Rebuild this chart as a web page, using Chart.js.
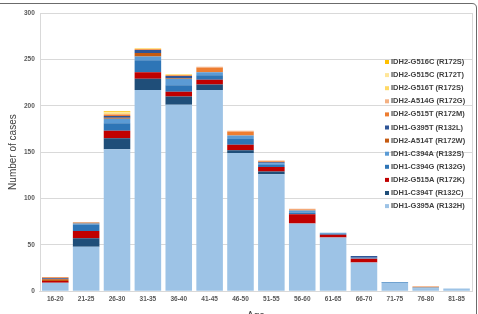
<!DOCTYPE html>
<html>
<head>
<meta charset="utf-8">
<script src="https://cdn.jsdelivr.net/npm/chart.js@4"></script>
<style>
  html, body { margin: 0; padding: 0; background: #fff; overflow: hidden; }
  body { width: 478px; height: 314px; }
</style>
</head>
<body>
<canvas id="ageChart" width="478" height="322"></canvas>
<script>
const ageLabels = ["16-20", "21-25", "26-30", "31-35", "36-40", "41-45", "46-50", "51-55", "56-60", "61-65", "66-70", "71-75", "76-80", "81-85"];

// stacked from bottom to top
const g395a = [9, 48, 153, 217, 201, 217, 149, 126, 73, 58, 31, 9, 3, 3];
const c394t = [0, 9, 12, 12, 9, 6, 3, 3, 0, 0, 0, 0, 0, 0];
const g515a = [2, 8, 8, 7, 5, 5, 6, 5, 10, 3, 4, 0, 0, 0];
const c394g = [0, 7, 8, 13, 7, 5, 6, 2, 2, 1, 0, 1, 0, 0];
const c394a = [0, 1, 5, 4, 7, 3, 4, 2, 2, 1, 1, 0, 1, 0];
const a514t = [2, 1, 1, 4, 1, 0, 0, 0, 0, 0, 0, 0, 0, 0];
const g395t = [1, 0, 2, 3, 2, 0, 0, 1, 0, 0, 2, 0, 0, 0];
const g515t = [1, 0, 1, 1, 1, 5, 4, 1, 1, 0, 0, 0, 1, 0];
const a514g = [0, 0, 1, 0, 0, 1, 1, 1, 1, 0, 0, 0, 0, 0];
const g516t = [0, 0, 1, 1, 1, 0, 0, 0, 0, 0, 0, 0, 0, 0];
const g515c = [0, 0, 1, 0, 0, 0, 0, 0, 0, 0, 0, 0, 0, 0];
const g516c = [0, 0, 1, 0, 0, 0, 0, 0, 0, 0, 0, 0, 0, 0];

const seriesNames = [
  "IDH1-G395A (R132H)", "IDH1-C394T (R132C)", "IDH2-G515A (R172K)", "IDH1-C394G (R132G)",
  "IDH1-C394A (R132S)", "IDH2-A514T (R172W)", "IDH1-G395T (R132L)", "IDH2-G515T (R172M)",
  "IDH2-A514G (R172G)", "IDH2-G516T (R172S)", "IDH2-G515C (R172T)", "IDH2-G516C (R172S)"
];
const seriesValues = [g395a, c394t, g515a, c394g, c394a, a514t, g395t, g515t, a514g, g516t, g515c, g516c];
const seriesColors = [
  "#9dc3e6", "#1f4e79", "#c00000", "#2e75b6",
  "#5b9bd5", "#c55a11", "#2f5597", "#ed7d31",
  "#f4b183", "#ffd966", "#ffe699", "#ffc000"
];

const FONT = "'Liberation Sans', Arial, sans-serif";

const frameAndLegend = {
  id: "frameAndLegend",
  beforeDraw(chart) {
    const ctx = chart.ctx;
    const a = chart.chartArea;
    ctx.save();
    ctx.strokeStyle = "#d9d9d9";
    ctx.lineWidth = 1;
    ctx.strokeRect(Math.round(a.left) + 0.5, Math.round(a.top) + 0.5,
      Math.round(a.right - a.left), Math.round(a.bottom - a.top));
    ctx.restore();
  },
  afterDraw(chart) {
    const ctx = chart.ctx;
    ctx.save();
    // outer frame
    ctx.strokeStyle = "#6b6b6b";
    ctx.lineWidth = 1;
    ctx.beginPath();
    ctx.moveTo(0, 3.5);
    ctx.lineTo(472, 3.5);
    ctx.quadraticCurveTo(476.5, 3.5, 476.5, 8);
    ctx.lineTo(476.5, 322);
    ctx.stroke();
    // legend, reversed order
    ctx.font = "bold 7.5px " + FONT;
    ctx.textBaseline = "middle";
    const n = seriesNames.length;
    for (let i = 0; i < n; i++) {
      const k = n - 1 - i;
      const y = 62 + i * 13.1;
      ctx.fillStyle = seriesColors[k];
      ctx.fillRect(385, y - 2, 4, 4);
      ctx.fillStyle = "#404040";
      ctx.fillText(seriesNames[k], 391, y);
    }
    ctx.restore();
  }
};

new Chart("ageChart", {
  type: "bar",
  data: {
    labels: ageLabels,
    datasets: seriesValues.map((vals, i) => ({
      label: seriesNames[i],
      data: vals,
      backgroundColor: seriesColors[i],
      borderWidth: 0,
      categoryPercentage: 1,
      barPercentage: 0.86
    }))
  },
  options: {
    responsive: false,
    animation: false,
    layout: { padding: { left: 7, right: 6, top: 13, bottom: 0 } },
    plugins: {
      legend: { display: false },
      tooltip: { enabled: false }
    },
    scales: {
      x: {
        stacked: true,
        grid: { display: false, drawTicks: false },
        border: { display: true, color: "#d9d9d9" },
        ticks: { font: { family: FONT, size: 6.5, weight: "bold" }, color: "#595959", maxRotation: 0, autoSkip: false, padding: 4 },
        title: { display: true, text: "Age", font: { family: FONT, size: 10 }, color: "#404040", padding: { top: 3, bottom: 0 } }
      },
      y: {
        stacked: true,
        min: 0,
        max: 300,
        ticks: { stepSize: 50, font: { family: FONT, size: 6.5, weight: "bold" }, color: "#595959", padding: 5 },
        grid: { color: "#d9d9d9", drawTicks: false },
        border: { display: false },
        title: { display: true, text: "Number of cases", font: { family: FONT, size: 10 }, color: "#404040", padding: { top: 0, bottom: 0 } }
      }
    }
  },
  plugins: [frameAndLegend]
});
</script>
</body>
</html>
